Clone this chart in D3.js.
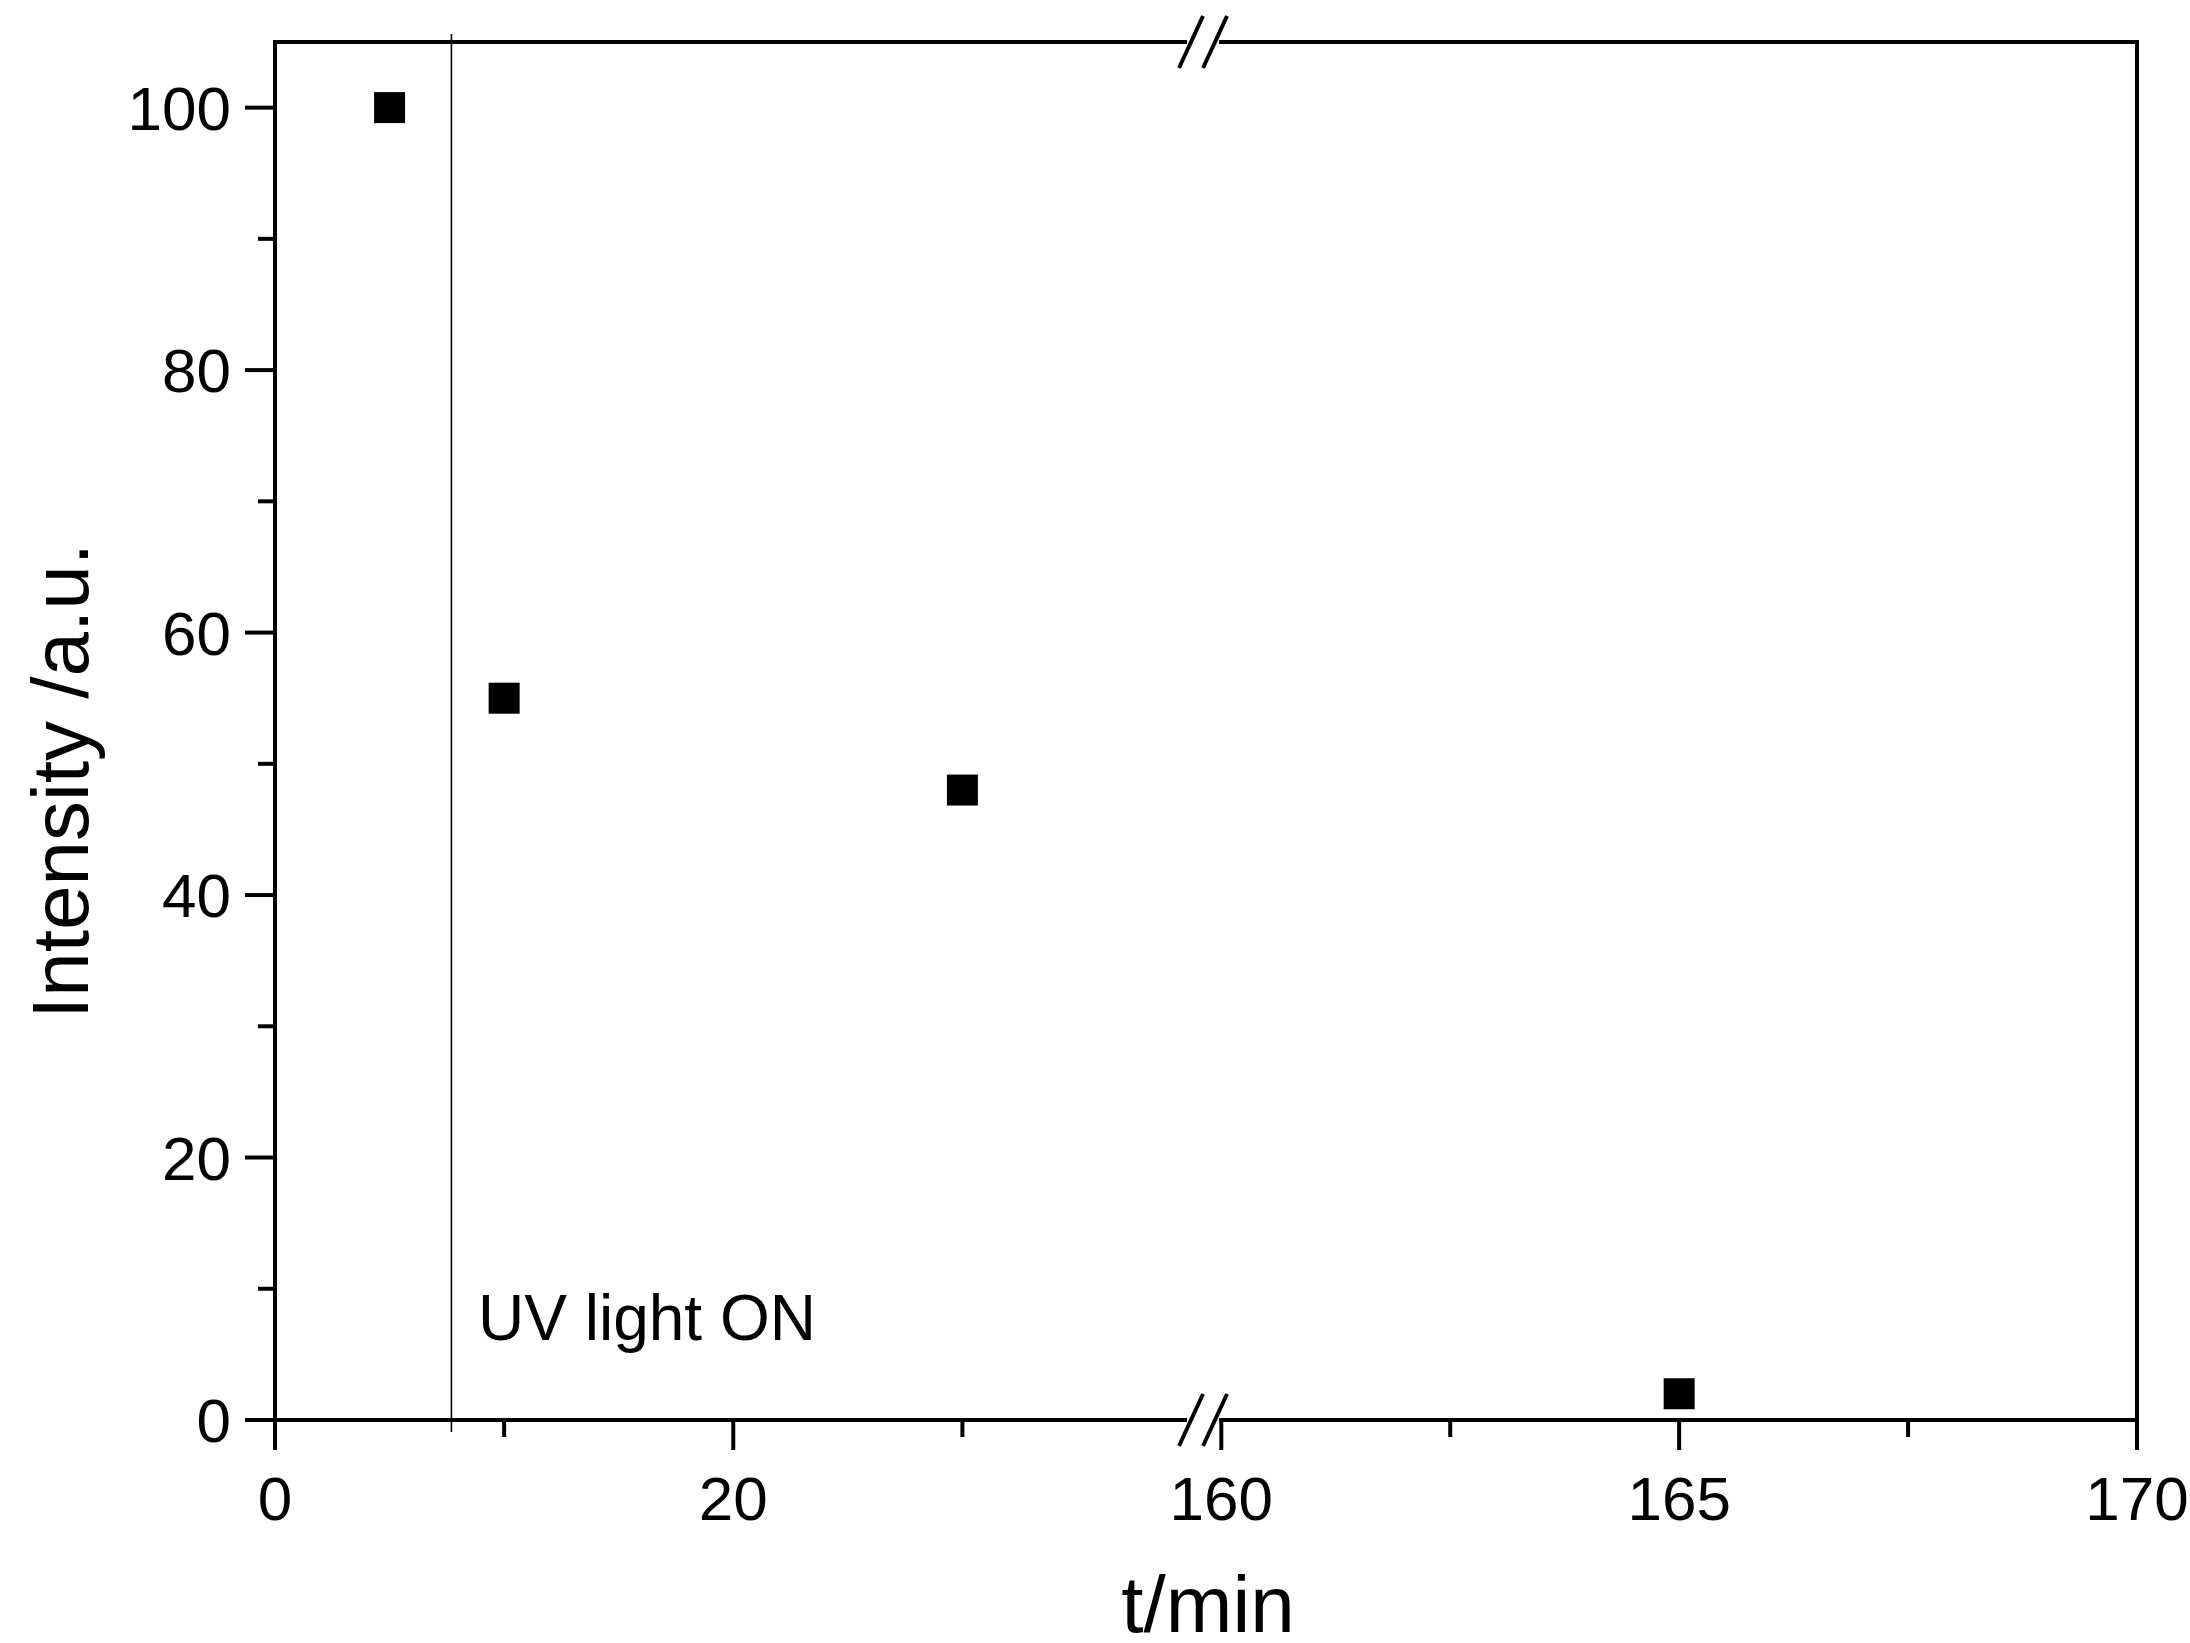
<!DOCTYPE html>
<html>
<head>
<meta charset="UTF-8">
<script src="https://d3js.org/d3.v7.min.js"></script>
<style>body{margin:0;background:#fff}</style>
</head>
<body>
<div id="chart"></div>
<script>
// data
const times = [5, 10, 30, 165];
const intensity = [100, 55, 48, 2];
const uvOnTime = 7.7;
const xTicksLow = [0, 20];
const xMinorLow = [10, 30];
const xTicksHigh = [160, 165, 170];
const xMinorHigh = [162.5, 167.5];
const yTicks = [0, 20, 40, 60, 80, 100];
const yMinor = [10, 30, 50, 70, 90];

const W = 2190, H = 1643;
const L = 275, R = 2137, T = 42, B = 1420, brk = 1203;
const svg = d3.select("#chart").append("svg").attr("width", W).attr("height", H);
const font = "'Liberation Sans Narrow', 'Arial Narrow', 'Liberation Sans', Arial, sans-serif";

const y = d3.scaleLinear().domain([0, 105]).range([B, T]);
const x1 = d3.scaleLinear().domain([0, 40.5]).range([L, brk]);
const x2 = d3.scaleLinear().domain([159.8, 170]).range([brk, R]);
const x = v => v < 100 ? x1(v) : x2(v);

// frame
svg.append("rect").attr("x", L).attr("y", T).attr("width", R - L).attr("height", B - T)
  .attr("fill", "none").attr("stroke", "#000").attr("stroke-width", 4);

// ticks
const g = svg.append("g").attr("stroke", "#000").attr("stroke-width", 4);
xTicksLow.concat(xTicksHigh).forEach(v => g.append("line").attr("x1", x(v)).attr("x2", x(v)).attr("y1", B).attr("y2", B + 30));
xMinorLow.concat(xMinorHigh).forEach(v => g.append("line").attr("x1", x(v)).attr("x2", x(v)).attr("y1", B).attr("y2", B + 17));
yTicks.forEach(v => g.append("line").attr("x1", L - 30).attr("x2", L).attr("y1", y(v)).attr("y2", y(v)));
yMinor.forEach(v => g.append("line").attr("x1", L - 17).attr("x2", L).attr("y1", y(v)).attr("y2", y(v)));

// tick labels
xTicksLow.concat(xTicksHigh).forEach(v => svg.append("text").attr("x", x(v)).attr("y", B + 100)
  .attr("text-anchor", "middle").attr("font-family", font).attr("font-size", 62).text(v));
yTicks.forEach(v => svg.append("text").attr("x", L - 44).attr("y", y(v) + 22)
  .attr("text-anchor", "end").attr("font-family", font).attr("font-size", 62).text(v));

// axis break marks
[T, B].forEach(yy => {
  svg.append("rect").attr("x", brk - 16).attr("y", yy - 4).attr("width", 32).attr("height", 8).attr("fill", "#fff");
  [-12, 12].forEach(dx => svg.append("line")
    .attr("x1", brk + dx - 12).attr("y1", yy + 26).attr("x2", brk + dx + 12).attr("y2", yy - 26)
    .attr("stroke", "#000").attr("stroke-width", 4));
});

// UV line
svg.append("line").attr("x1", x(uvOnTime)).attr("x2", x(uvOnTime)).attr("y1", T - 8).attr("y2", B + 12)
  .attr("stroke", "#000").attr("stroke-width", 1.6);
svg.append("text").attr("x", 478).attr("y", 1340).attr("font-family", font).attr("font-size", 64).text("UV light ON");

// points
const s = 31;
svg.selectAll("rect.pt").data(times.map((t, i) => [t, intensity[i]])).enter().append("rect")
  .attr("class", "pt").attr("x", d => x(d[0]) - s / 2).attr("y", d => y(d[1]) - s / 2)
  .attr("width", s).attr("height", s).attr("fill", "#000");

// titles
svg.append("text").attr("x", 1208).attr("y", 1632).attr("text-anchor", "middle")
  .attr("font-family", font).attr("font-size", 80).text("t/min");
svg.append("text").attr("transform", `translate(88,${(T + B) / 2 + 50}) rotate(-90)`).attr("text-anchor", "middle")
  .attr("font-family", font).attr("font-size", 80).text("Intensity /a.u.");
</script>
</body>
</html>
